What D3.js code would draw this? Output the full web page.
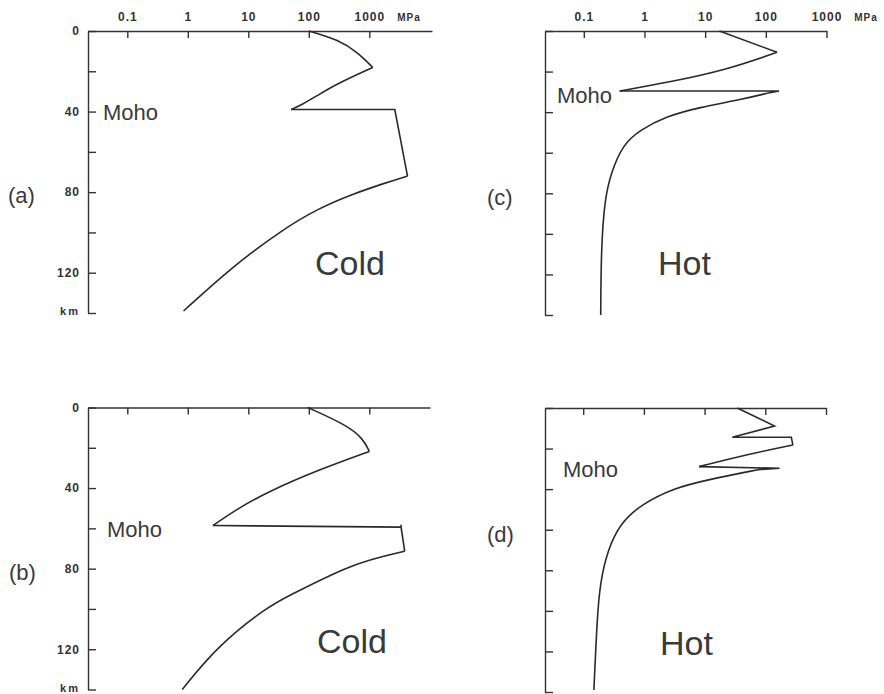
<!DOCTYPE html>
<html><head><meta charset="utf-8">
<script src="https://cdn.jsdelivr.net/npm/d3@7"></script>
<style>
body{margin:0;background:#fff}
svg{display:block}
.tick text{font-family:"Liberation Sans",Arial,sans-serif;font-weight:bold;font-size:12px;fill:#333;letter-spacing:1px}
.big{font-family:"Liberation Sans",Arial,sans-serif;fill:#3a3a3a}
</style></head><body>
<svg id="chart" width="884" height="694"></svg>
<script>
// ---- tick labels ----
const stressTicks = [0.1, 1, 10, 100, 1000];
const stressTickLabels = ["0.1", "1", "10", "100", "1000"];
const depthTicks = [0, 20, 40, 60, 80, 100, 120, 140];
const depthTickLabels = ["0", "", "40", "", "80", "", "120", "km"];
const stressUnit = "MPa";
const panelLetters = ["(a)", "(b)", "(c)", "(d)"];
const regimeLabels = ["Cold", "Cold", "Hot", "Hot"];
const mohoLabel = "Moho";

// ---- strength profiles: [stress MPa, depth km] ----
// (a) cold, thin crust
const aUpperCrust = [[100,0],[313,4.4],[670,11],[1140,18.1]];
const aLowerCrust = [[1140,18.1],[313,25.8],[146,31.6],[78,36.5],[51,39]];
const aMoho       = [[51,39],[2640,39],[4280,72]];
const aMantle     = [[4280,72],[1850,75.4],[522,81],[138,88.4],[38,98.3],[5.7,116.5],[0.85,139]];
// (b) cold, thick crust
const bUpperCrust = [[96,0],[413,8.6],[780,15.2],[1000,21.8]];
const bLowerCrust = [[1000,21.8],[146,30.9],[21.8,41.6],[6.3,50.6],[2.6,58.6]];
const bMoho       = [[2.6,58.6],[3350,59.4],[3350,58.2],[3350,59.4],[3850,71.3]];
const bMantle     = [[3850,71.3],[1775,73.7],[716,77],[256,82.4],[50,93],[21,98.8],[3.05,118.6],[0.81,140]];
// (c) hot, thin crust
const cUpperCrust = [[17.2,0],[153,10.5]];
const cLowerCrust = [[153,10.5],[22,19.2],[2.8,25],[0.39,29.6]];
const cMoho       = [[0.39,29.6],[165,29.6],[105,30.7]];
const cMantle     = [[105,30.7],[37,34],[8.1,37.6],[2.2,42.2],[0.85,48.8],[0.44,56],[0.28,70],[0.22,83.3],[0.193,108],[0.19,140]];
// (d) hot, layered crust
const dUpperCrust = [[34.5,0],[142,8.9],[28.6,14.4],[268,14.4],[285,18.2]];
const dLowerCrust = [[285,18.2],[52,22.8],[8.1,28.9]];
const dMoho       = [[8.1,28.9],[172,29.7],[76,30.4]];
const dMantle     = [[76,30.4],[10.8,35.5],[3.1,39.5],[0.9,47.6],[0.41,56.7],[0.25,70.3],[0.19,86.5],[0.17,103],[0.15,139]];

// ---- layout (positions only) ----
const panels = [
  {x0:88,  x1:432,   xt01:127.3, xt1000:369.3, yTop:31,    yBot:313,
   xLabels:true,  yLabels:true,  unitX:409, letter:[8,203],  regime:[315,275], moho:[103,120],
   segs:[[aUpperCrust,1],[aLowerCrust,1],[aMoho,0],[aMantle,1]]},
  {x0:88,  x1:430,   xt01:127.3, xt1000:369.3, yTop:407.5, yBot:689.5,
   xLabels:false, yLabels:true,  unitX:null, letter:[9,580],  regime:[317,653], moho:[107,537],
   segs:[[bUpperCrust,1],[bLowerCrust,1],[bMoho,0],[bMantle,1]]},
  {x0:545, x1:826.5, xt01:583.8, xt1000:826.5, yTop:31,    yBot:315,
   xLabels:true,  yLabels:false, unitX:866, letter:[487,205], regime:[658,275], moho:[557,103],
   segs:[[cUpperCrust,0],[cLowerCrust,1],[cMoho,0],[cMantle,1]]},
  {x0:545, x1:826,   xt01:583.2, xt1000:826,   yTop:408,   yBot:692,
   xLabels:false, yLabels:false, unitX:null, letter:[487,542], regime:[660,655], moho:[563,477],
   segs:[[dUpperCrust,0],[dLowerCrust,1],[dMoho,0],[dMantle,1]]}
];

const svg = d3.select("#chart");
svg.append("rect").attr("width",884).attr("height",694).attr("fill","#fff");

panels.forEach((p, i) => {
  const xBase = d3.scaleLog().domain([0.1, 1000]).range([p.xt01, p.xt1000]);
  const x = d3.scaleLog().domain([xBase.invert(p.x0), xBase.invert(p.x1)]).range([p.x0, p.x1]);
  const y = d3.scaleLinear().domain([0, 140]).range([p.yTop, p.yBot]);
  const g = svg.append("g");

  const ax = d3.axisTop(x).tickValues(stressTicks).tickSizeInner(-7).tickSizeOuter(0).tickPadding(10)
    .tickFormat(d => p.xLabels ? stressTickLabels[stressTicks.indexOf(d)] : "");
  const gx = g.append("g").attr("transform", `translate(0,${p.yTop})`).call(ax);

  const ay = d3.axisLeft(y).tickValues(depthTicks).tickSizeInner(-8).tickSizeOuter(0).tickPadding(8)
    .tickFormat(d => p.yLabels ? depthTickLabels[depthTicks.indexOf(d)] : "");
  const gy = g.append("g").attr("transform", `translate(${p.x0},0)`).call(ay);
  gy.selectAll(".tick text").filter(d => d === 140)
    .style("font-size", "11px").style("letter-spacing", "2px").attr("dy", "0.15em");

  [gx, gy].forEach(a => {
    a.select(".domain").attr("stroke", "#333").attr("stroke-width", 1.4);
    a.selectAll(".tick line").attr("stroke", "#333").attr("stroke-width", 1.4);
  });

  if (p.unitX) {
    g.append("text").attr("x", p.unitX).attr("y", p.yTop - 10).attr("text-anchor", "middle")
      .style("font-family", '"Liberation Sans",Arial,sans-serif').style("font-weight", "bold")
      .style("font-size", "10px").style("letter-spacing", "1px").attr("fill", "#333").text(stressUnit);
  }

  p.segs.forEach(([pts, curved]) => {
    const line = d3.line().x(d => x(d[0])).y(d => y(d[1]))
      .curve(curved ? d3.curveBasis : d3.curveLinear);
    g.append("path").attr("d", line(pts)).attr("fill", "none")
      .attr("stroke", "#2a2a2a").attr("stroke-width", 1.6).attr("stroke-linejoin", "miter");
  });

  g.append("text").attr("class", "big").attr("x", p.letter[0]).attr("y", p.letter[1])
    .style("font-size", "22px").text(panelLetters[i]);
  g.append("text").attr("class", "big").attr("x", p.regime[0]).attr("y", p.regime[1])
    .style("font-size", "34px").text(regimeLabels[i]);
  g.append("text").attr("class", "big").attr("x", p.moho[0]).attr("y", p.moho[1])
    .style("font-size", "22px").text(mohoLabel);
});
</script>
</body></html>
